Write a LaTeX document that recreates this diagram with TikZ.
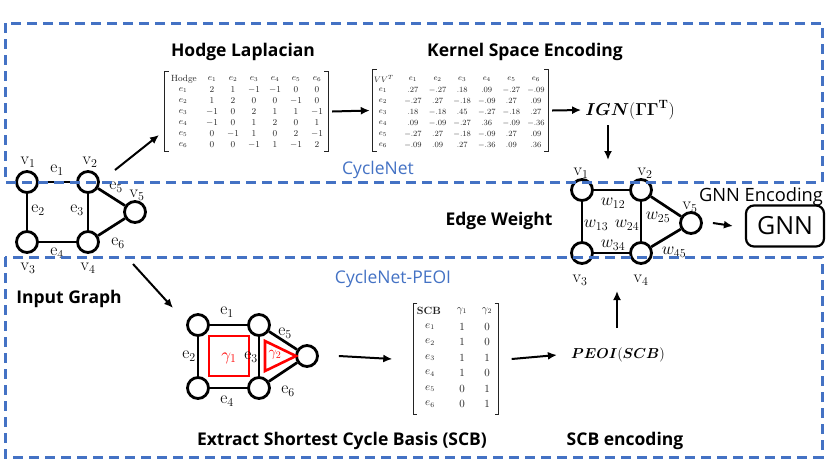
\documentclass[tikz,border=0pt]{standalone}
\usepackage{amsmath,bm}
\usepackage[no-math]{fontspec}
\newfontfamily\headfont{Open Sans}
\usetikzlibrary{arrows.meta,calc}
\definecolor{dashblue}{RGB}{68,114,196}
\definecolor{inkgray}{RGB}{35,35,35}
\tikzset{
  vtx/.style={circle, draw, line width=2.8pt, fill=white, minimum size=21pt, inner sep=0pt},
  gedge/.style={line width=2.7pt},
  arr/.style={-{Latex[length=9pt,width=8pt]}, line width=2pt},
  hd/.style={font=\headfont\bfseries\fontsize{17.5}{18}\selectfont, inner sep=0pt},
  rg/.style={font=\headfont\fontsize{18.3}{19}\selectfont, inner sep=0pt},
  bluelbl/.style={font=\headfont\fontsize{17.5}{18}\selectfont, text=dashblue, inner sep=0pt},
  lbl/.style={font=\fontsize{17}{17}\selectfont, inner sep=0pt},
  wlbl/.style={font=\fontsize{16.5}{17}\selectfont, inner sep=0pt},
  ent/.style={font=\fontsize{9}{9}\selectfont, inner sep=0pt, text=inkgray},
  kent/.style={font=\fontsize{8}{8}\selectfont, inner sep=0pt, text=inkgray},
  sent/.style={font=\fontsize{10.5}{10.5}\selectfont, inner sep=0pt, text=inkgray},
  brk/.style={line width=0.9pt, draw=inkgray},
  dbox/.style={draw=dashblue, line width=3pt, dash pattern=on 10pt off 6pt},
  mbox/.style={inner sep=0pt, draw=none},
}
\begin{document}
\begin{tikzpicture}[x=1pt,y=-1pt]
\useasboundingbox (0,0) rectangle (830,467);

% ---------- input graph ----------
\node[vtx] (a1) at (27,182) {};
\node[vtx] (a2) at (88,182) {};
\node[vtx] (a3) at (27,242) {};
\node[vtx] (a4) at (88,242) {};
\node[vtx] (a5) at (135,212) {};
\draw[gedge] (a1) -- (a2);
\draw[gedge] (a1) -- (a3);
\draw[gedge] (a2) -- (a4);
\draw[gedge] (a3) -- (a4);
\draw[gedge] (a2) -- (a5);
\draw[gedge] (a4) -- (a5);
\node[lbl] (av1) at (28,162) {$\mathrm{v}_1$};
\node[lbl] (av2) at (90,162) {$\mathrm{v}_2$};
\node[lbl] (av3) at (28,268) {$\mathrm{v}_3$};
\node[lbl] (av4) at (88,268) {$\mathrm{v}_4$};
\node[lbl] (av5) at (137,195) {$\mathrm{v}_5$};
\node[lbl] (ae1) at (57,170) {$\mathrm{e}_1$};
\node[lbl] (ae2) at (38,210) {$\mathrm{e}_2$};
\node[lbl] (ae3) at (77,210) {$\mathrm{e}_3$};
\node[lbl] (ae4) at (57,253) {$\mathrm{e}_4$};
\node[lbl] (ae5) at (116,187) {$\mathrm{e}_5$};
\node[lbl] (ae6) at (118,243) {$\mathrm{e}_6$};
\node[hd] (tinput) at (69,299) {Input Graph};

% ---------- Hodge Laplacian ----------
\node[hd] (thodge) at (243,52) {Hodge Laplacian};
\node[mbox, minimum width=163pt, minimum height=79pt] (hodge) at (246.5,111.5) {};
\draw[brk] ([xshift=4pt]hodge.north west) -- (hodge.north west) -- (hodge.south west) -- ([xshift=4pt]hodge.south west);
\draw[brk] ([xshift=-4pt]hodge.north east) -- (hodge.north east) -- (hodge.south east) -- ([xshift=-4pt]hodge.south east);
\node[ent] (hodge-h) at (184,79) {Hodge};
\foreach \j in {1,...,6} {
  \node[ent] (hodge-c\j) at (191+21*\j,79) {$e_{\j}$};
  \node[ent] (hodge-r\j) at (183,79+11*\j) {$e_{\j}$};
}
\foreach \row [count=\i] in {{2,1,-1,-1,0,0},{1,2,0,0,-1,0},{-1,0,2,1,1,-1},{-1,0,1,2,0,1},{0,-1,1,0,2,-1},{0,0,-1,1,-1,2}} {
  \foreach \v [count=\j] in \row {
    \node[ent] (hodge-\i-\j) at (191+21*\j,79+11*\i) {$\v$};
  }
}

% ---------- Kernel space ----------
\node[hd] (tkernel) at (525,52) {Kernel Space Encoding};
\node[mbox, minimum width=175pt, minimum height=81pt] (kernel) at (460.5,110.5) {};
\draw[brk] ([xshift=4pt]kernel.north west) -- (kernel.north west) -- (kernel.south west) -- ([xshift=4pt]kernel.south west);
\draw[brk] ([xshift=-4pt]kernel.north east) -- (kernel.north east) -- (kernel.south east) -- ([xshift=-4pt]kernel.south east);
\node[kent] (kernel-h) at (384,79) {$VV^T$};
\foreach \j in {1,...,6} {
  \node[kent] (kernel-c\j) at (388.4+24.6*\j,79) {$e_{\j}$};
  \node[kent] (kernel-r\j) at (383,79+11*\j) {$e_{\j}$};
}
\foreach \row [count=\i] in {{.27,-.27,.18,.09,-.27,-.09},{-.27,.27,-.18,-.09,.27,.09},{.18,-.18,.45,-.27,-.18,.27},{.09,-.09,-.27,.36,-.09,-.36},{-.27,.27,-.18,-.09,.27,.09},{-.09,.09,.27,-.36,.09,.36}} {
  \foreach \v [count=\j] in \row {
    \node[kent] (kernel-\i-\j) at (388.4+24.6*\j,79+11*\i) {$\v$};
  }
}

% ---------- IGN ----------
\node[font=\fontsize{16.5}{17}\selectfont, inner sep=0pt] (ign) at (630,110) {$\bm{IGN}(\bm{\Gamma\Gamma}^{\mathbf{T}})$};

% ---------- weighted graph ----------
\node[vtx] (w1) at (582,190) {};
\node[vtx] (w2) at (641,190) {};
\node[vtx] (w3) at (582,253) {};
\node[vtx] (w4) at (641,253) {};
\node[vtx] (w5) at (691,223) {};
\draw[gedge] (w1) -- (w2);
\draw[gedge] (w1) -- (w3);
\draw[gedge] (w2) -- (w4);
\draw[gedge] (w3) -- (w4);
\draw[gedge] (w2) -- (w5);
\draw[gedge] (w4) -- (w5);
\node[lbl] (wv1) at (581,173) {$\mathrm{v}_1$};
\node[lbl] (wv2) at (645,173) {$\mathrm{v}_2$};
\node[lbl] (wv3) at (580,280) {$\mathrm{v}_3$};
\node[lbl] (wv4) at (641,280) {$\mathrm{v}_4$};
\node[lbl] (wv5) at (690,207) {$\mathrm{v}_5$};
\node[wlbl] (w12) at (613,203) {$w_{12}$};
\node[wlbl] (w13) at (596,225) {$w_{13}$};
\node[wlbl] (w24) at (627,225) {$w_{24}$};
\node[wlbl] (w25) at (658,217) {$w_{25}$};
\node[wlbl] (w34) at (613,245) {$w_{34}$};
\node[wlbl] (w45) at (674,252) {$w_{45}$};
\node[hd] (tedge) at (499,221) {Edge Weight};

% ---------- GNN ----------
\node[draw, rounded corners=8pt, line width=2.2pt, minimum width=78pt, minimum height=41pt, font=\headfont\fontsize{25}{25}\selectfont] (gnn) at (785,226) {GNN};
\node[rg] (tgnn) at (761,197) {GNN Encoding};

% ---------- SCB graph ----------
\node[vtx] (s1) at (198,325) {};
\node[vtx] (s2) at (259,325) {};
\node[vtx] (s3) at (198,388) {};
\node[vtx] (s4) at (259,388) {};
\node[vtx] (s5) at (307,356) {};
\draw[gedge] (s1) -- (s2);
\draw[gedge] (s1) -- (s3);
\draw[gedge] (s2) -- (s4);
\draw[gedge] (s3) -- (s4);
\draw[gedge] (s2) -- (s5);
\draw[gedge] (s4) -- (s5);
\draw[red, line width=2.6pt] (209,336) rectangle (249,376);
\draw[red, line width=2.6pt] (265,341) -- (296,356) -- (265,371) -- cycle;
\node[lbl, text=red] (g1) at (229,358) {$\gamma_1$};
\node[lbl, text=red, font=\fontsize{14.5}{15}\selectfont] (g2) at (275,355) {$\gamma_2$};
\node[lbl] (se1) at (227,312) {$\mathrm{e}_1$};
\node[lbl] (se2) at (189,356) {$\mathrm{e}_2$};
\node[lbl] (se3) at (251,357) {$\mathrm{e}_3$};
\node[lbl] (se4) at (227,401) {$\mathrm{e}_4$};
\node[lbl] (se5) at (285,333) {$\mathrm{e}_5$};
\node[lbl] (se6) at (288,391) {$\mathrm{e}_6$};
\node[hd] (textract) at (342,441) {Extract Shortest Cycle Basis (SCB)};

% ---------- SCB matrix ----------
\node[mbox, minimum width=85pt, minimum height=110pt] (scb) at (456,359) {};
\draw[brk] ([xshift=4pt]scb.north west) -- (scb.north west) -- (scb.south west) -- ([xshift=4pt]scb.south west);
\draw[brk] ([xshift=-4pt]scb.north east) -- (scb.north east) -- (scb.south east) -- ([xshift=-4pt]scb.south east);
\node[sent] (scb-h) at (429,311) {\textbf{SCB}};
\node[sent] (scb-c1) at (462,311) {$\gamma_1$};
\node[sent] (scb-c2) at (487,311) {$\gamma_2$};
\foreach \a/\b [count=\i] in {1/0,1/0,1/1,1/0,0/1,0/1} {
  \node[sent] (scb-r\i) at (430,311+15.5*\i) {$e_{\i}$};
  \node[sent] (scb-\i-1) at (462,311+15.5*\i) {$\a$};
  \node[sent] (scb-\i-2) at (487,311+15.5*\i) {$\b$};
}

% ---------- PEOI ----------
\node[font=\fontsize{15.5}{16}\selectfont, inner sep=0pt] (peoi) at (618,355) {$\bm{PEOI}(\bm{SCB})$};
\node[hd] (tscbenc) at (625,441) {SCB encoding};

% ---------- arrows ----------
\coordinate (g1out) at (115,170);
\coordinate (hodgein) at (159,135);
\draw[arr] (g1out) -- (hodgein);
\draw[arr] ([xshift=4pt]hodge.east) -- ([xshift=-3pt]kernel.west);
\draw[arr] ([xshift=4pt]kernel.east) -- ([xshift=-4pt]ign.west);
\coordinate (ignout) at (608,125);
\coordinate (wgin) at (608,160);
\draw[arr] (ignout) -- (wgin);
\draw[arr] ([xshift=10pt]w5.east) -- ([xshift=-12pt]gnn.west);
\coordinate (g2out) at (133,264);
\coordinate (scbgin) at (173,308);
\draw[arr] (g2out) -- (scbgin);
\draw[arr] ([xshift=20pt]s5.east) -- ([xshift=-21pt]scb.west);
\draw[arr] ([xshift=13pt]scb.east) -- ([xshift=-14pt]peoi.west);
\coordinate (peoiout) at (617,328);
\coordinate (wgout) at (617,291);
\draw[arr] (peoiout) -- (wgout);

% ---------- dashed boxes ----------
\draw[dbox] (5,23) rectangle (822,182);
\draw[dbox] (5,257) rectangle (822,457);
\node[bluelbl] (tcyclenet) at (378,170) {CycleNet};
\node[bluelbl] (tpeoi) at (393,279) {CycleNet-PEOI};
\end{tikzpicture}
\end{document}
